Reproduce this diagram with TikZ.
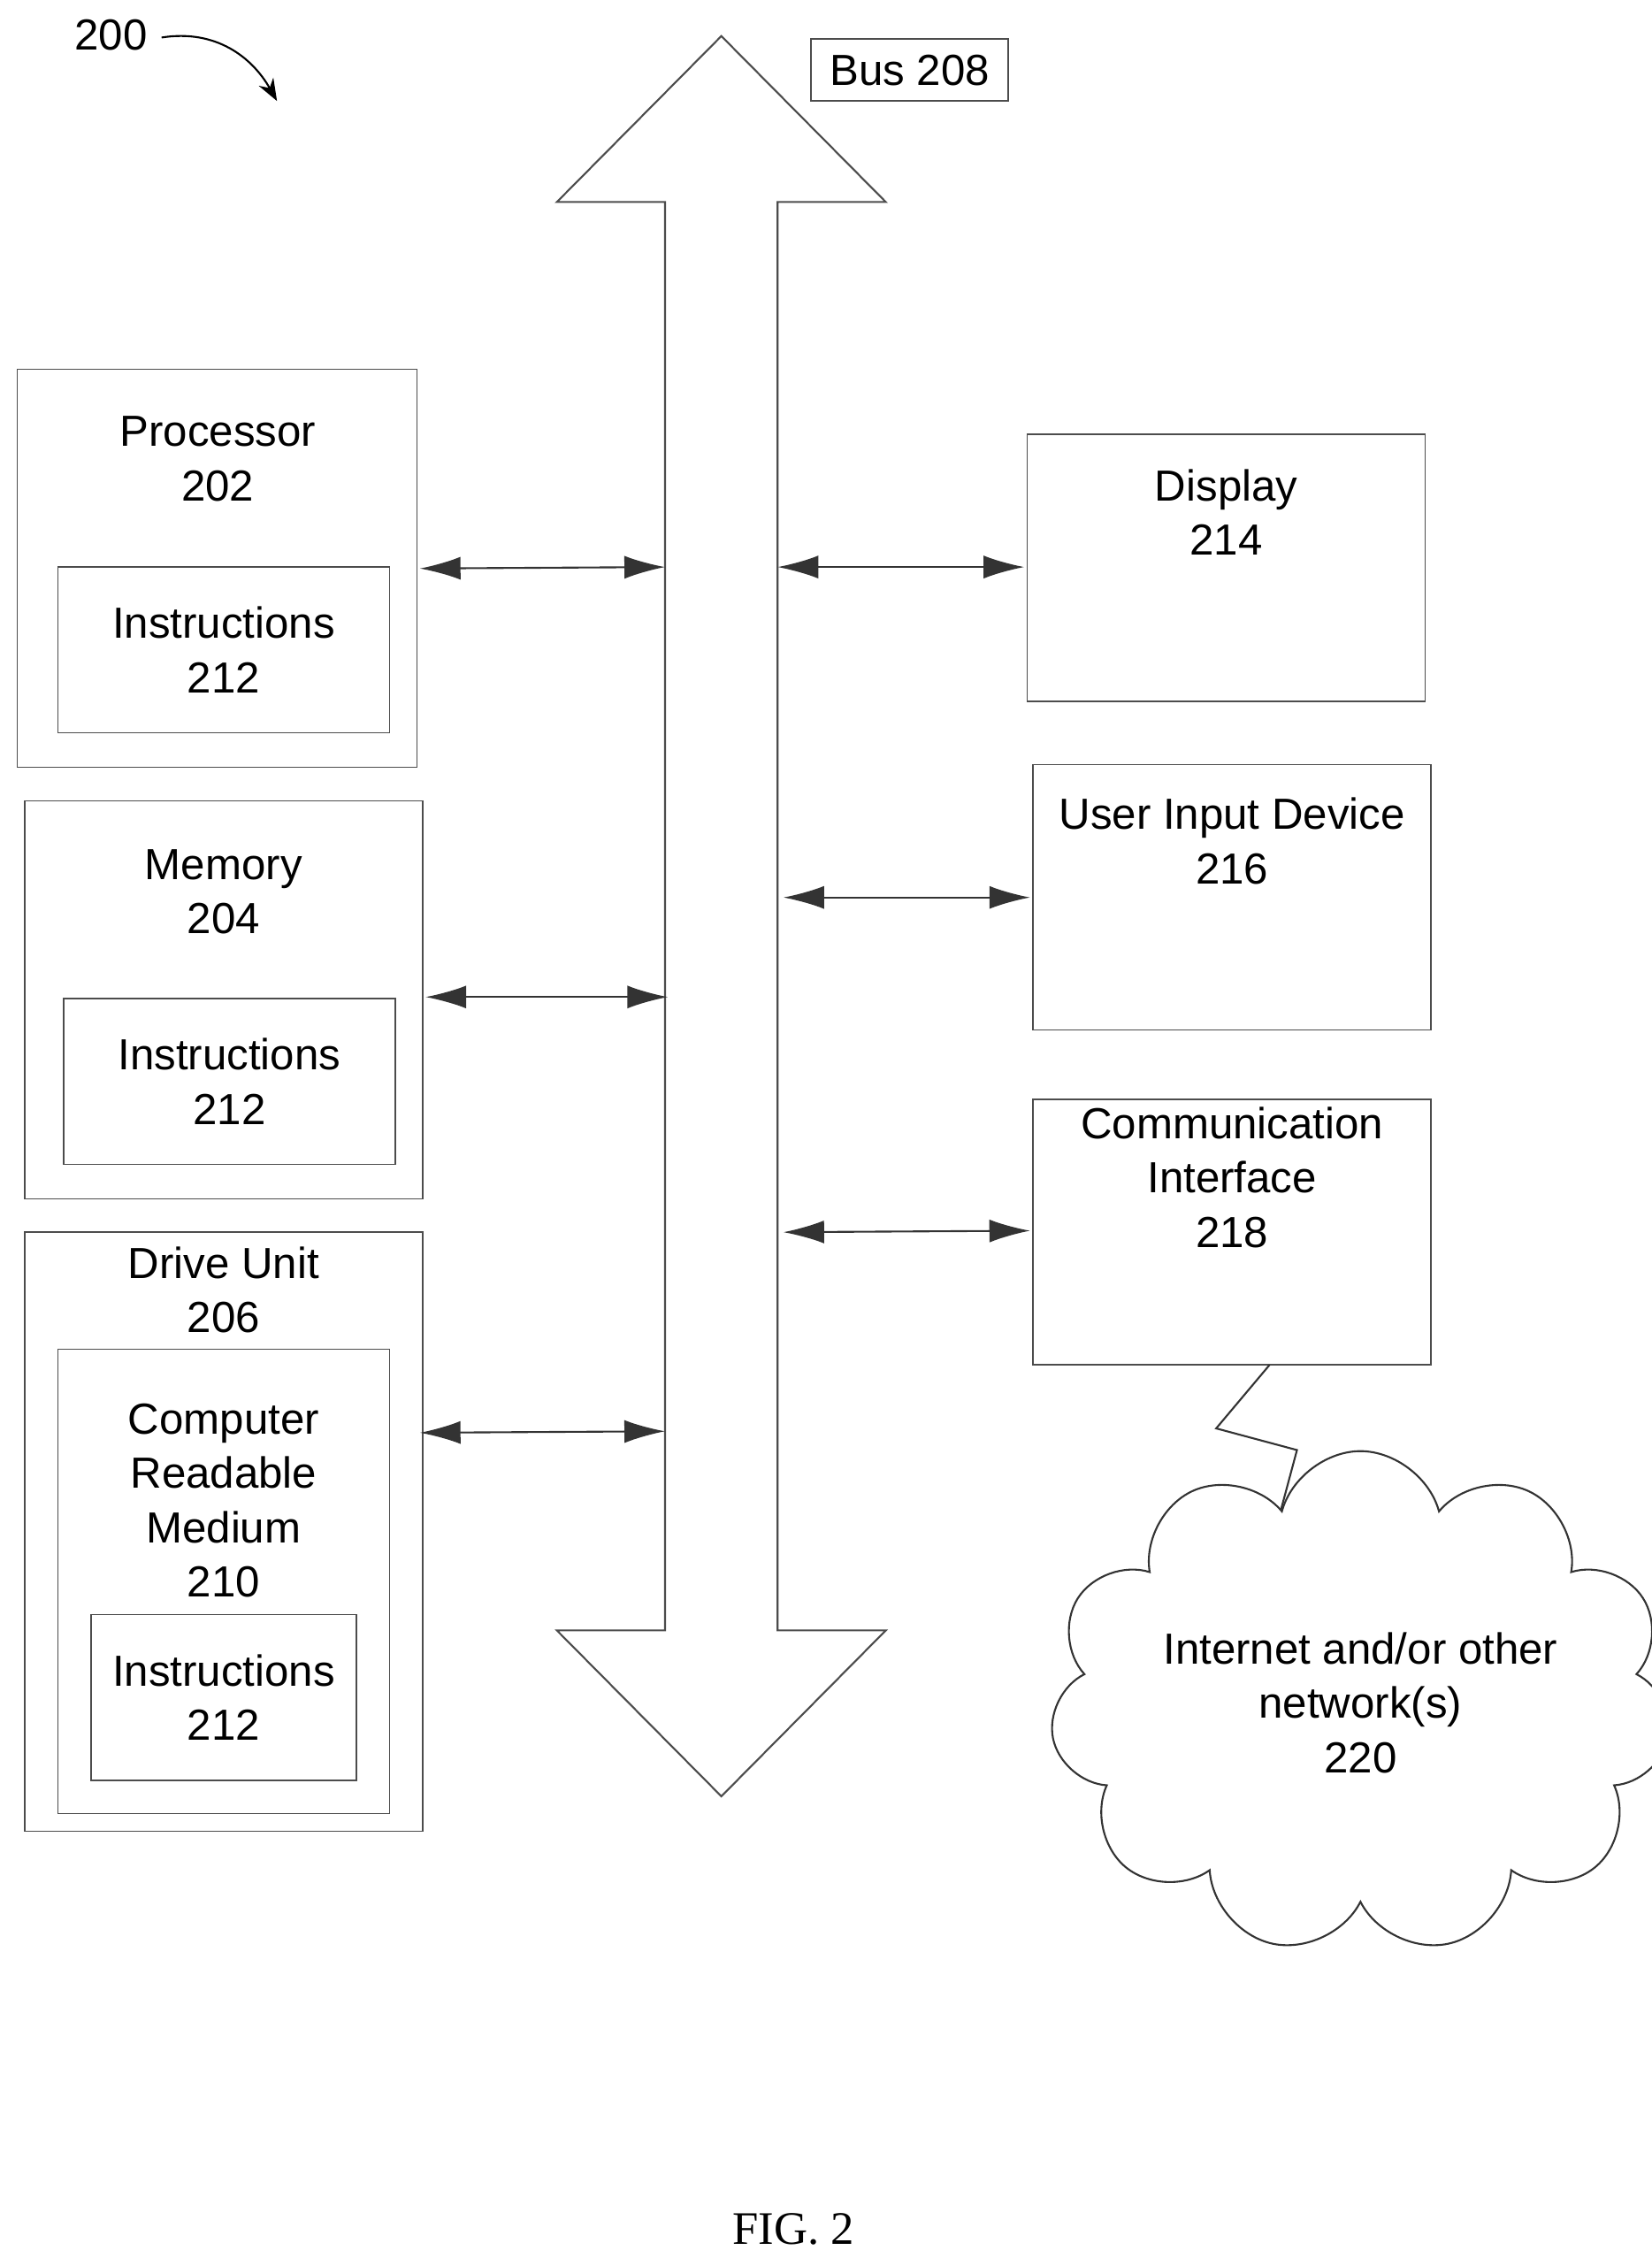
\documentclass[tikz,border=0pt]{standalone}
\usepackage{fontspec}
\setmainfont{Liberation Sans}
\newfontfamily\figfont{Liberation Serif}
\usetikzlibrary{arrows.meta,shapes.symbols}
\begin{document}
\begin{tikzpicture}[x=0.01631cm,y=-0.01631cm,
  box/.style={draw=black!70, rectangle, inner sep=0pt},
  txt/.style={align=center, font=\fontsize{14}{17.5}\selectfont, inner sep=0pt},
  link/.style={draw=black!80, line width=0.6pt, {Latex[length=4.6mm,width=2.6mm]}-{Latex[length=4.6mm,width=2.6mm]}}]
\useasboundingbox (0,0) rectangle (1145,1565);

%bus
\draw[black!70, line width=0.6pt] (500,25) -- (614,140) -- (539,140) -- (539,1130) -- (614,1130) -- (500,1245)
  -- (386,1130) -- (461,1130) -- (461,140) -- (386,140) -- cycle;
\coordinate (BL1) at (461,393); \coordinate (BL2) at (463,691); \coordinate (BL3) at (461,992);
\coordinate (BR1) at (539,393); \coordinate (BR2) at (543,622); \coordinate (BR3) at (543,854);
\node[box, minimum width=2.23cm, minimum height=0.70cm, txt] (bus) at (630.5,48.5) {Bus 208};

%label 200
\node[txt] (n200) at (77,24) {200};
\coordinate (c200) at (192,70);
\draw[-{Stealth[length=2.5mm]}, line width=0.6pt] (112,26) .. controls (150,20) and (175,40) .. (c200);

%left boxes
\node[box, minimum width=4.52cm, minimum height=4.50cm] (proc) at (150.5,394) {};
\node[txt] (proct) at (151,318) {Processor\\202};
\node[box, minimum width=3.75cm, minimum height=1.876cm, txt] (instp) at (155,450.5) {Instructions\\212};

\node[box, minimum width=4.50cm, minimum height=4.50cm] (mem) at (155,693) {};
\node[txt] (memt) at (155,618) {Memory\\204};
\node[box, minimum width=3.75cm, minimum height=1.876cm, txt] (instm) at (159,749.5) {Instructions\\212};

\node[box, minimum width=4.50cm, minimum height=6.77cm] (drive) at (155,1061.5) {};
\node[txt] (drivet) at (155,894) {Drive Unit\\206};
\node[box, minimum width=3.75cm, minimum height=5.25cm] (crm) at (155,1096) {};
\node[txt] (crmt) at (155,1040) {Computer\\Readable\\Medium\\210};
\node[box, minimum width=3.00cm, minimum height=1.876cm, txt] (instd) at (155,1176.5) {Instructions\\212};

%right boxes
\node[box, minimum width=4.50cm, minimum height=3.02cm] (disp) at (850,393.5) {};
\node[txt] (dispt) at (850,355) {Display\\214};
\node[box, minimum width=4.50cm, minimum height=3.00cm] (uid) at (854,622) {};
\node[txt] (uidt) at (854,583) {User Input Device\\216};
\node[box, minimum width=4.50cm, minimum height=3.00cm] (comm) at (854,854) {};
\node[txt] (commt) at (854,816) {Communication\\Interface\\218};

%network
\node[cloud, draw=black!80, line width=0.6pt, cloud puffs=11, aspect=1.4, minimum width=6.1cm, minimum height=4.4cm, txt] (net) at (943,1180) {Internet and/or other\\network(s)\\220};
\coordinate (z1) at (843,990); \coordinate (z2) at (899,1005); \coordinate (cb) at (888,1046);
\draw[black!80, line width=0.6pt] (880,946) -- (z1) -- (z2) -- (cb);

%links
\draw[link] (291,394) -- (BL1);
\draw[link] (295,691) -- (BL2);
\draw[link] (291,993) -- (BL3);
\draw[link] (BR1) -- (710,393);
\draw[link] (BR2) -- (714,622);
\draw[link] (BR3) -- (714,853);

\node[font=\figfont\fontsize{15}{18}\selectfont] (fig) at (550,1545) {FIG. 2};
\end{tikzpicture}
\end{document}
